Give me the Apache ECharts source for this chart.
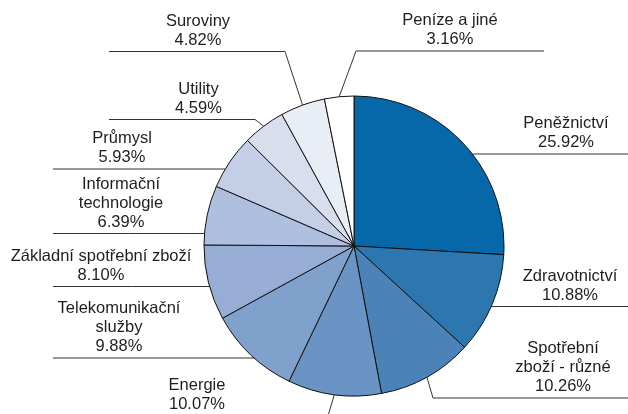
<!DOCTYPE html>
<html>
<head>
<meta charset="utf-8">
<script src="https://cdn.jsdelivr.net/npm/echarts@6/dist/echarts.min.js"></script>
<style>
    html, body { margin: 0; padding: 0; background: #fff; }
    #chart { width: 628px; height: 414px; }
</style>
</head>
<body>
<div id="chart"></div>
<script>
    // sektory, po směru hodinových ručiček od 12 hodin
    var sectors = [
        'Peněžnictví',
        'Zdravotnictví',
        'Spotřební\nzboží - různé',
        'Energie',
        'Telekomunikační\nslužby',
        'Základní spotřební zboží',
        'Informační\ntechnologie',
        'Průmysl',
        'Utility',
        'Suroviny',
        'Peníze a jiné'
    ];
    var shares = [25.92, 10.88, 10.26, 10.07, 9.88, 8.10, 6.39, 5.93, 4.59, 4.82, 3.16];

    var colors = ['#0668a9', '#2d77b1', '#4b83b9', '#6a94c3', '#7fa1cc', '#98add5',
        '#afbfdf', '#c4cee6', '#d8deee', '#e9edf6', '#ffffff'];

    var CX = 354, CY = 246, R = 150;

    // umístění popisků: střed textu, výška vodorovné čáry, konec čáry, zlom (nepovinný)
    var labelPos = [
        {x: 566, lineY: 154, end: 628},
        {x: 570, lineY: 306.5, end: 628},
        {x: 563, lineY: 398, end: 628, knee: 433},
        {x: 197, lineY: 416, end: 53, knee: 328},
        {x: 119, lineY: 358, end: 53},
        {x: 101, lineY: 286.5, end: 53},
        {x: 121, lineY: 233.5, end: 53},
        {x: 122, lineY: 169, end: 53},
        {x: 198.5, lineY: 119.5, end: 109, knee: 255},
        {x: 198, lineY: 51.5, end: 109, knee: 285},
        {x: 450, lineY: 51, end: 544, knee: 356}
    ];

    var data = sectors.map(function (name, i) {
        return {name: name, value: shares[i], itemStyle: {color: colors[i]}};
    });

    var myChart = echarts.init(document.getElementById('chart'), null, {renderer: 'canvas'});

    var option = {
        animation: false,
        series: [
            {
                type: 'pie',
                center: [CX, CY],
                radius: R,
                startAngle: 90,
                clockwise: true,
                avoidLabelOverlap: false,
                emphasis: {disabled: true},
                itemStyle: {
                    borderColor: '#111',
                    borderWidth: 1
                },
                label: {
                    show: true,
                    position: 'outside',
                    color: '#1e1e1e',
                    fontFamily: 'Liberation Sans, Arial, sans-serif',
                    fontSize: 16.5,
                    lineHeight: 19.2,
                    align: 'center',
                    formatter: function (p) {
                        return p.name + '\n' + p.value.toFixed(2) + '%';
                    }
                },
                labelLine: {
                    show: true,
                    smooth: false,
                    lineStyle: {color: '#333', width: 1}
                },
                labelLayout: function (params) {
                    var pos = labelPos[params.dataIndex];
                    var pts;
                    if (pos.knee !== undefined) {
                        var start = params.labelLinePoints[0];
                        pts = [[start[0], start[1]], [pos.knee, pos.lineY], [pos.end, pos.lineY]];
                    } else {
                        var dy = pos.lineY - CY;
                        var dx = Math.sqrt(Math.max(R * R - dy * dy, 0));
                        var sx = pos.end > CX ? CX + dx : CX - dx;
                        pts = [[sx, pos.lineY], [(sx + pos.end) / 2, pos.lineY], [pos.end, pos.lineY]];
                    }
                    return {
                        x: pos.x,
                        y: pos.lineY - 1.5,
                        align: 'center',
                        verticalAlign: 'bottom',
                        labelLinePoints: pts
                    };
                },
                data: data
            }
        ]
    };
    myChart.setOption(option);
</script>
</body>
</html>
